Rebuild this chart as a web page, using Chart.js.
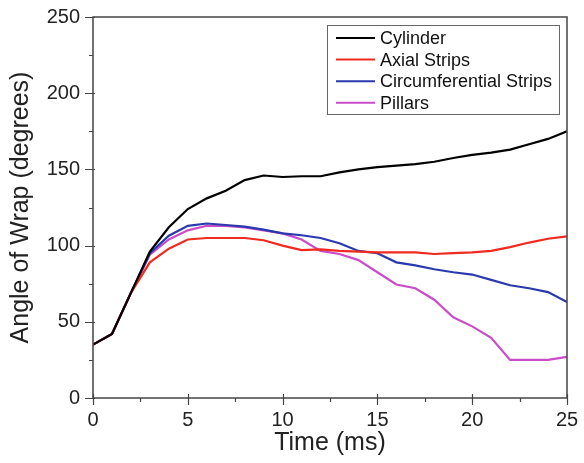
<!DOCTYPE html>
<html lang="en">
<head>
    <meta charset="UTF-8">
    <title>Angle of Wrap</title>
    <script src="https://cdn.jsdelivr.net/npm/chart.js"></script>
    <style>
        body { margin: 0; background: #fff; }
        .chart-container { position: relative; width: 584px; height: 463px; }
    </style>
</head>
<body>
<div class="chart-container">
    <canvas id="wrapChart" width="584" height="463"></canvas>
</div>
<script>
    // data, one value per ms
    var timeMs = [0, 1, 2, 3, 4, 5, 6, 7, 8, 9, 10, 11, 12, 13, 14, 15, 16, 17, 18, 19, 20, 21, 22, 23, 24, 25];
    var cylinder = [35, 42, 69, 96, 112, 124, 131, 136, 143, 146, 145, 145.5, 145.5, 148, 150, 151.5, 152.5, 153.5, 155, 157.5, 159.5, 161, 163, 166.5, 170, 175];
    var axialStrips = [35, 42, 69, 89, 98, 104, 105, 105, 105, 103.5, 100, 97, 97.5, 96.5, 96, 95.5, 95.5, 95.5, 94.5, 95, 95.5, 96.5, 99, 102, 104.5, 106];
    var circumStrips = [35, 42, 69, 95, 106.5, 113, 114.5, 113.5, 112.5, 110.5, 108, 106.8, 105, 101.5, 96.5, 95, 89, 87, 84.5, 82.5, 81, 77.5, 74, 72, 69.5, 63];
    var pillars = [35, 42, 69, 94, 104, 110, 113, 113, 112, 110, 108, 104, 96.5, 94.5, 90.5, 82.5, 74.5, 72, 64.5, 53, 47, 39.5, 25, 25, 25, 27];
    var seriesNames = ['Cylinder', 'Axial Strips', 'Circumferential Strips', 'Pillars'];
    var seriesColors = ['#000000', '#f02a1e', '#2a3aae', '#c94cc9'];
    var yMajorTicks = [0, 50, 100, 150, 200, 250];
    var xMajorTicks = [0, 5, 10, 15, 20, 25];

    var fontFamily = '"Liberation Sans", Arial, sans-serif';

    function toPoints(values) {
        var pts = [];
        for (var i = 0; i < timeMs.length; i++) {
            pts.push({ x: timeMs[i], y: values[i] });
        }
        return pts;
    }

    // frame, minor ticks and boxed legend inside the plot
    var framePlugin = {
        id: 'framePlugin',
        afterDraw: function (chart) {
            var ctx = chart.ctx;
            var area = chart.chartArea;
            var xs = chart.scales.x, ys = chart.scales.y;
            ctx.save();
            ctx.strokeStyle = '#444';
            ctx.lineWidth = 1.5;
            ctx.strokeRect(area.left, area.top, area.right - area.left, area.bottom - area.top);

            // ticks
            ctx.lineWidth = 1.2;
            ctx.beginPath();
            for (var v = 0; v <= 250; v += 25) {
                var py = Math.round(ys.getPixelForValue(v)) + 0.5;
                if (v % 50 === 0) {
                    ctx.moveTo(area.left - 8, py);
                    ctx.lineTo(area.left + 2, py);
                } else {
                    ctx.moveTo(area.left - 4, py);
                    ctx.lineTo(area.left, py);
                }
            }
            for (var t = 0; t <= 25; t += 2.5) {
                var px = Math.round(xs.getPixelForValue(t)) + 0.5;
                if (t % 5 === 0) {
                    ctx.moveTo(px, area.bottom - 4);
                    ctx.lineTo(px, area.bottom + 7);
                } else {
                    ctx.moveTo(px, area.bottom);
                    ctx.lineTo(px, area.bottom + 4);
                }
            }
            ctx.stroke();

            // legend
            var bx = 327, by = 25, bw = 232, bh = 89;
            ctx.fillStyle = '#fff';
            ctx.fillRect(bx, by, bw, bh);
            ctx.strokeStyle = '#666';
            ctx.lineWidth = 1;
            ctx.strokeRect(bx + 0.5, by + 0.5, bw, bh);
            ctx.font = '18px ' + fontFamily;
            ctx.textBaseline = 'middle';
            ctx.textAlign = 'left';
            chart.data.datasets.forEach(function (ds, i) {
                var ry = 38 + i * 21.6;
                ctx.strokeStyle = ds.borderColor;
                ctx.lineWidth = 2;
                ctx.beginPath();
                ctx.moveTo(336, ry);
                ctx.lineTo(375, ry);
                ctx.stroke();
                ctx.fillStyle = '#111';
                ctx.fillText(ds.label, 380, ry + 1);
            });
            ctx.restore();
        }
    };

    var datasets = [cylinder, axialStrips, circumStrips, pillars].map(function (vals, i) {
        return {
            label: seriesNames[i],
            data: toPoints(vals),
            borderColor: seriesColors[i],
            backgroundColor: seriesColors[i],
            borderWidth: 2.2,
            pointRadius: 0,
            fill: false,
            tension: 0
        };
    });

    var ctx = document.getElementById('wrapChart').getContext('2d');
    window.myChart = new Chart(ctx, {
        type: 'line',
        data: { datasets: datasets },
        options: {
            responsive: false,
            animation: false,
            devicePixelRatio: 1,
            layout: { padding: { left: 0, top: 8, right: 17, bottom: 0 } },
            plugins: {
                legend: { display: false },
                tooltip: { enabled: false }
            },
            scales: {
                x: {
                    type: 'linear',
                    min: 0,
                    max: 25,
                    afterFit: function (scale) { scale.height = 65; },
                    afterBuildTicks: function (scale) {
                        scale.ticks = xMajorTicks.map(function (v) { return { value: v }; });
                    },
                    grid: { display: false },
                    border: { display: false },
                    ticks: {
                        color: '#222',
                        padding: 2,
                        maxRotation: 0,
                        font: { family: fontFamily, size: 20 }
                    },
                    title: {
                        display: true,
                        text: 'Time (ms)',
                        color: '#222',
                        padding: { top: 0, bottom: 5 },
                        font: { family: fontFamily, size: 25 }
                    }
                },
                y: {
                    min: 0,
                    max: 250,
                    afterFit: function (scale) { scale.width = 93; },
                    afterBuildTicks: function (scale) {
                        scale.ticks = yMajorTicks.map(function (v) { return { value: v }; });
                    },
                    grid: { display: false },
                    border: { display: false },
                    ticks: {
                        color: '#222',
                        padding: 5,
                        font: { family: fontFamily, size: 20 }
                    },
                    title: {
                        display: true,
                        text: 'Angle of Wrap (degrees)',
                        color: '#222',
                        padding: { top: 6, bottom: 0 },
                        font: { family: fontFamily, size: 25 }
                    }
                }
            }
        },
        plugins: [framePlugin]
    });
</script>
</body>
</html>
